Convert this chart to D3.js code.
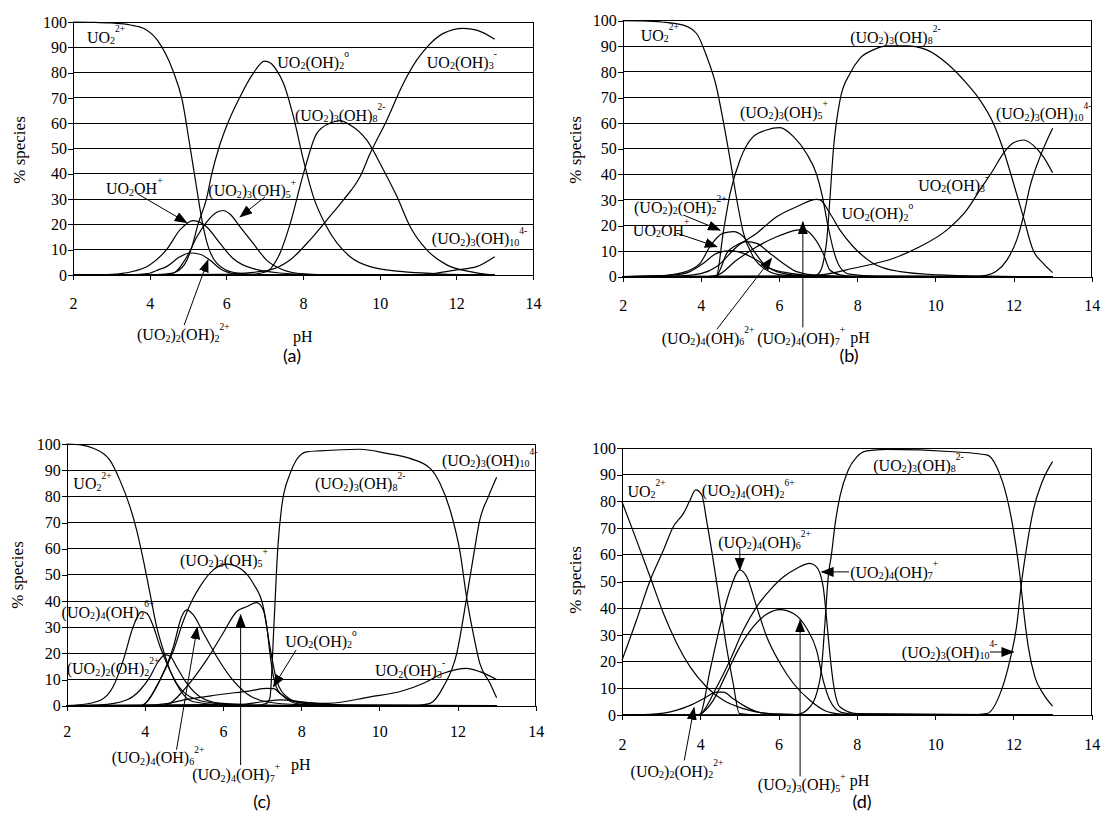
<!DOCTYPE html>
<html>
<head>
<meta charset="utf-8">
<script src="https://cdn.jsdelivr.net/npm/d3@7"></script>
<style>
  html, body { margin: 0; padding: 0; background: #fff; }
  svg { display: block; }
</style>
</head>
<body>
<svg id="chart" width="1101" height="814"></svg>
<script>
// ---- axis ticks ----
const pHTicks = [2, 4, 6, 8, 10, 12, 14];
const pctTicks = [0, 10, 20, 30, 40, 50, 60, 70, 80, 90, 100];

// ---- species distribution, [pH, % species] ----
// panel (a)
const a_UO2      = [[2,100],[2.5,99.9],[3,99.6],[3.5,98.8],[3.85,97.4],[4.2,92.8],[4.6,81],[4.85,69],[5.05,51],[5.23,34],[5.36,22],[5.5,12.5],[5.75,4.7],[6.2,1],[7,0.1],[13,0]];
const a_UO2OH    = [[2,0],[2.5,0.1],[3,0.3],[3.5,1.2],[4,4],[4.44,10],[4.79,17.8],[5.14,21.5],[5.49,19],[5.83,12.6],[6.17,6.6],[6.7,2.5],[7.66,0.5],[9,0],[13,0]];
const a_UO22OH2  = [[2,0],[3.5,0.1],[4,0.7],[4.18,1.8],[4.44,3.3],[4.79,7.2],[5.05,8.7],[5.31,8.2],[5.57,5.9],[5.83,2.6],[6.2,0.6],[7,0],[13,0]];
const a_UO23OH5  = [[2,0],[4.3,0.1],[4.6,0.6],[4.97,7.2],[5.23,15],[5.49,21],[5.75,24.8],[5.92,25.5],[6.1,24],[6.36,19],[6.7,12.5],[7.05,5.9],[7.49,2],[8,0.5],[9,0],[13,0]];
const a_UO2OH2   = [[2,0],[4.2,0.2],[4.6,0.8],[4.9,4],[5.1,11],[5.26,20],[5.48,30],[5.62,40],[5.8,50],[6,58.6],[6.36,70.5],[6.7,79.7],[7,84.5],[7.15,83.8],[7.31,81],[7.49,75.8],[7.75,62.6],[8.01,45.5],[8.27,31],[8.62,19],[9.23,7.2],[9.75,3.3],[10.6,1.3],[11.5,0.5],[13,0]];
const a_UO23OH8  = [[2,0],[6.5,0.1],[7.05,1.3],[7.31,5.9],[7.4,8.6],[7.66,20],[8.01,40],[8.36,56],[8.7,60],[8.97,61],[9.23,59.3],[9.66,53.4],[10.1,41.5],[10.45,31],[10.8,19],[11.23,9.9],[11.75,4],[12.36,1.3],[12.8,0.3],[13,0.2]];
const a_UO2OH3   = [[2,0],[6,0.3],[6.5,0.8],[7.14,2],[7.66,5.9],[8.18,13.8],[8.62,21.7],[9.05,29.6],[9.49,38.9],[9.75,48],[10.18,61],[10.62,75.8],[10.97,85],[11.23,90],[11.66,95.5],[12.18,97.5],[12.53,96.8],[13,93.2]];
const a_UO23OH10 = [[2,0],[11,0.2],[11.5,0.8],[12,2],[12.53,3.3],[13,7.2]];

// panel (b)
const b_UO2      = [[2,100],[2.5,99.9],[3,99.5],[3.55,98.3],[3.89,95],[4.15,86],[4.4,74],[4.57,61],[4.75,45.6],[4.92,30],[5.09,17],[5.34,7.8],[5.68,2.6],[6.1,0.6],[7,0.1],[13,0]];
const b_UO2OH    = [[2,0],[3,0.4],[3.5,1],[3.72,2],[4.06,5.2],[4.4,9.1],[4.75,10.2],[5.09,9.1],[5.43,6.5],[5.77,3.3],[6.3,1.3],[7,0.3],[8,0],[13,0]];
const b_UO22OH2  = [[2,0],[3,0.4],[3.5,1.5],[3.72,2.6],[3.98,5.2],[4.23,11.7],[4.57,17],[4.83,17.6],[5.09,15.6],[5.34,10.4],[5.6,5.2],[5.94,2],[6.5,0.5],[7.5,0],[13,0]];
const b_UO24OH6  = [[2,0],[4.2,0],[4.4,0.3],[4.5,3],[4.66,9.1],[4.92,12.4],[5.17,13.7],[5.43,13],[5.77,9.1],[6.11,5.2],[6.45,2],[7,0.5],[8,0],[13,0]];
const b_UO23OH5  = [[2,0],[4.2,0],[4.4,0.5],[4.57,17],[4.75,32.6],[5,45.6],[5.34,54.7],[5.68,57.3],[6.02,58.2],[6.37,54.7],[6.7,48.2],[6.96,40],[7.1,32],[7.25,20],[7.4,10],[7.55,4],[7.8,1],[8.5,0.2],[13,0]];
const b_UO24OH7  = [[2,0],[4.2,0],[4.4,0.4],[4.92,6.5],[5.43,11.7],[5.94,15.6],[6.45,18.2],[6.62,18.5],[6.88,15.6],[7.13,9.1],[7.3,2.6],[7.56,0.7],[8,0.1],[13,0]];
const b_UO2OH2   = [[2,0],[3.5,0.3],[4,1.2],[4.4,3.9],[4.92,11.7],[5.43,17],[5.94,23.4],[6.45,27.3],[6.96,30.2],[7.05,30],[7.3,24.8],[7.56,18.2],[7.9,11.7],[8.41,5.2],[9.1,2],[10.1,0.7],[11,0.2],[13,0]];
const b_UO23OH8  = [[2,0],[6.9,0.3],[7.05,2],[7.15,7],[7.22,14],[7.3,30],[7.39,49.5],[7.56,69],[7.82,79.5],[8.07,85.3],[8.41,88.6],[8.76,90.2],[9.27,90.2],[9.78,88.6],[10.29,83.4],[10.8,75.5],[11.14,69],[11.48,60],[11.74,49.5],[12,36.5],[12.25,23.4],[12.5,10.4],[12.76,5.2],[13,1.6]];
const b_UO2OH3   = [[2,0],[6,0.1],[7.05,0.7],[7.9,3.3],[8.93,7.2],[9.6,11.7],[10.29,18.2],[10.8,26],[11.14,33.9],[11.48,41.7],[11.74,48.2],[12,52.3],[12.25,53.4],[12.5,51.4],[12.76,46.9],[13,40.6]];
const b_UO23OH10 = [[2,0],[11,0.1],[11.3,0.5],[11.55,2],[11.83,6.5],[12.08,14.3],[12.25,23.4],[12.42,35.2],[12.68,46.9],[13,58]];

// panel (c)
const c_UO2      = [[2,100],[2.4,99.6],[2.68,98.4],[3.1,93.9],[3.36,86.2],[3.62,76],[3.79,67.1],[3.96,55.7],[4.13,43],[4.3,30.2],[4.47,21.3],[4.64,13.6],[4.9,6],[5.24,1.5],[6,0.3],[7,0],[13,0]];
const c_UO24OH2  = [[2,0],[2.3,0.3],[2.85,2],[3.19,7.3],[3.45,17.5],[3.7,30.2],[3.92,36],[4.05,35.3],[4.22,30.2],[4.39,22.5],[4.56,16.2],[4.81,8.6],[5.16,3.4],[5.75,1],[7,0],[13,0]];
const c_UO22OH2  = [[2,0],[2.85,0.3],[3.53,2.2],[3.88,6],[4.13,11],[4.34,16.8],[4.52,19.4],[4.64,19],[4.81,14.9],[5.07,8.6],[5.41,3.4],[5.9,1],[7,0.2],[8,0],[13,0]];
const c_UO24OH6  = [[2,0],[3.9,0],[3.96,0.3],[4.39,9.8],[4.73,22.5],[4.94,34],[5.07,36.6],[5.24,34.7],[5.5,27.7],[5.84,18.7],[6.18,11.1],[6.6,4.7],[7.1,1.5],[8,0.3],[9,0],[13,0]];
const c_UO23OH5  = [[2,0],[3.9,0],[3.96,0.3],[4.39,10],[4.73,21],[5,33],[5.2,40],[5.41,45.5],[5.75,51.9],[6.09,54.1],[6.43,52.5],[6.77,46.8],[7.03,37.8],[7.2,22.5],[7.37,9.8],[7.63,3.4],[8,1],[9,0.2],[13,0]];
const c_UO24OH7  = [[2,0],[4.4,0],[4.56,0.3],[5.07,7.3],[5.58,17.5],[6,27.7],[6.35,36],[6.6,37.8],[6.86,39.4],[7.03,36.6],[7.12,30.2],[7.2,20],[7.29,11.1],[7.46,4.7],[8,0.5],[9,0],[13,0]];
const c_UO2OH2   = [[2,0],[4,0.1],[4.56,0.8],[5,2.2],[5.84,4.1],[6.69,5.7],[7.12,6.6],[7.3,6.5],[7.46,4.7],[7.71,2.2],[8.4,0.8],[9,0.3],[10,0.1],[13,0]];
const c_UO23OH8  = [[2,0],[6.8,0],[7.1,0.8],[7.2,3],[7.3,30],[7.4,60],[7.5,76],[7.71,88.5],[7.88,94],[8.14,97],[8.48,97.4],[9.5,98],[10.19,96.4],[10.78,94.5],[11.3,90.7],[11.55,85],[11.81,74.8],[12.07,58.2],[12.23,41.6],[12.4,27.7],[12.57,16.2],[12.83,8.6],[13,3]];
const c_UO2OH3   = [[2,0],[6.5,0.5],[7,1.5],[7.5,2.2],[8,1.4],[8.7,0.9],[9.76,3.4],[10.6,5.7],[11.13,8.6],[11.64,12.4],[12.23,14.3],[12.57,13],[13,10]];
const c_UO23OH10 = [[2,0],[11,0.2],[11.3,0.9],[11.64,7.3],[11.98,20],[12.23,41],[12.4,56.5],[12.57,71],[12.79,79.9],[13,87.3]];

// panel (d)
const d_UO2      = [[2,79.9],[2.37,65.5],[2.72,51.7],[3.06,38],[3.4,26.8],[3.74,18],[4.16,10.5],[4.59,5.5],[5.1,2.4],[5.7,0.6],[6.5,0.1],[7,0],[13,0]];
const d_UO24OH2  = [[2,20.5],[2.37,35.5],[2.72,50.5],[3.06,61.8],[3.31,70.5],[3.57,75.5],[3.74,80.5],[3.88,84.3],[4.04,82.4],[4.16,73],[4.33,58],[4.5,41.8],[4.67,25.5],[4.84,11.8],[5,0.5],[5.5,0],[13,0]];
const d_UO22OH2  = [[2,0],[2.7,0.2],[3.4,1.8],[3.74,3.6],[4.08,6.1],[4.42,8.6],[4.59,8.6],[4.84,6.1],[5.1,3.6],[5.5,1],[6,0.3],[7,0],[13,0]];
const d_UO24OH6  = [[2,0],[3.95,0],[4,0.3],[4.25,16.8],[4.5,33],[4.76,46.8],[5.01,54.3],[5.19,51.7],[5.44,40.5],[5.7,29.2],[6.04,19.3],[6.38,11.8],[6.8,5.5],[7.2,1.5],[7.6,0.3],[8,0],[13,0]];
const d_UO23OH5  = [[2,0],[3.95,0],[4,0.3],[4.33,5.5],[4.67,15.5],[5.01,25.5],[5.35,33],[5.7,37.8],[6.04,39.5],[6.38,38],[6.72,32.4],[6.97,24.3],[7.14,13],[7.31,5.5],[7.6,1],[8,0.2],[13,0]];
const d_UO24OH7  = [[2,0],[3.95,0],[4,0.3],[4.42,10.5],[4.76,20.5],[5.1,31.8],[5.44,40.5],[5.78,46.8],[6.12,51.7],[6.46,54.9],[6.8,56.8],[6.97,55.5],[7.14,48],[7.23,35.5],[7.31,23],[7.4,11.8],[7.57,3],[8,0.5],[13,0]];
const d_UO23OH8  = [[2,0],[6.3,0],[6.46,0.1],[6.8,3],[6.97,8],[7.1,18],[7.19,35.5],[7.27,52],[7.35,60],[7.44,71],[7.57,82],[7.78,91.8],[8,96.7],[8.25,98.9],[8.76,99.5],[10.46,98.6],[11.32,97.4],[11.57,93],[11.83,81.7],[12,69.3],[12.17,51.7],[12.25,40.5],[12.38,25.5],[12.55,14.2],[12.76,8],[13,3.3]];
const d_UO23OH10 = [[2,0],[11,0.1],[11.32,0.5],[11.66,8],[11.91,20.5],[12.08,33],[12.21,49.9],[12.34,63],[12.51,76.8],[12.72,86.8],[13,94.9]];

// ---- species names (_ subscript, ^ superscript) ----
const SP = {
  UO2:      "UO_2^{2+}",
  UO2OH:    "UO_2OH^+",
  UO22OH2:  "(UO_2)_2(OH)_2^{2+}",
  UO23OH5:  "(UO_2)_3(OH)_5^+",
  UO2OH2:   "UO_2(OH)_2^o",
  UO23OH8:  "(UO_2)_3(OH)_8^{2-}",
  UO2OH3:   "UO_2(OH)_3^-",
  UO23OH10: "(UO_2)_3(OH)_{10}^{4-}",
  UO24OH6:  "(UO_2)_4(OH)_6^{2+}",
  UO24OH7:  "(UO_2)_4(OH)_7^+",
  UO24OH2:  "(UO_2)_4(OH)_2^{6+}"
};

// ---- panel layout and annotations (label anchors in pH / % units) ----
const panels = [
  { caption: "(a)", left: 73, right: 533, bottom: 275, top: 22, tickPad: 17.6,
    yTitle: [19, 150], cap: [292, 355],
    series: [a_UO2, a_UO2OH, a_UO22OH2, a_UO23OH5, a_UO2OH2, a_UO23OH8, a_UO2OH3, a_UO23OH10],
    labels: [[SP.UO2, 2.365, 91.8], [SP.UO2OH, 2.86, 32.0], [SP.UO23OH5, 5.53, 31.2],
             [SP.UO2OH2, 7.33, 81.9], [SP.UO23OH8, 7.79, 60.9], [SP.UO2OH3, 11.23, 81.9],
             [SP.UO23OH10, 11.36, 12.1], [SP.UO22OH2, 3.67, -25.7], ["pH", 7.74, -26.3]],
    arrows: [[[3.66, 32.3], [4.97, 20.7]], [[7.01, 30.9], [6.36, 23.0]], [[4.90, -19.8], [5.52, 5.9]]] },
  { caption: "(b)", left: 622.7, right: 1091.7, bottom: 276.7, top: 20.7, tickPad: 17.5,
    yTitle: [575, 150], cap: [849, 355],
    series: [b_UO2, b_UO2OH, b_UO22OH2, b_UO24OH6, b_UO23OH5, b_UO24OH7, b_UO2OH2, b_UO23OH8, b_UO2OH3, b_UO23OH10],
    labels: [[SP.UO2, 2.46, 92.1], [SP.UO23OH5, 5.0, 62.1], [SP.UO22OH2, 2.29, 25.0],
             [SP.UO2OH, 2.26, 15.9], [SP.UO24OH6, 3.0, -26.2], [SP.UO24OH7, 5.44, -26.2],
             ["pH", 7.82, -26.0], [SP.UO23OH8, 7.82, 91.4], [SP.UO23OH10, 11.55, 61.5],
             [SP.UO2OH3, 9.56, 33.5], [SP.UO2OH2, 7.6, 22.4]],
    arrows: [[[3.55, 24.1], [4.49, 18.2]], [[3.38, 17.0], [4.41, 11.7]],
             [[4.41, -20.5], [5.81, 7.2]], [[6.61, -19.8], [6.61, 21.4]]] },
  { caption: "(c)", left: 66.7, right: 535.7, bottom: 705.7, top: 444, tickPad: 14.5,
    yTitle: [17, 575], cap: [262, 801],
    series: [c_UO2, c_UO24OH2, c_UO22OH2, c_UO24OH6, c_UO23OH5, c_UO24OH7, c_UO2OH2, c_UO23OH8, c_UO2OH3, c_UO23OH10],
    labels: [[SP.UO2, 2.17, 82.7], [SP.UO23OH5, 4.90, 53.4], [SP.UO24OH2, 1.87, 33.6],
             [SP.UO22OH2, 2.0, 12.0], [SP.UO2OH2, 7.59, 22.5], [SP.UO23OH8, 8.35, 82.7],
             [SP.UO23OH10, 11.6, 91.6], [SP.UO2OH3, 9.89, 11.3], [SP.UO24OH6, 3.15, -21.9],
             [SP.UO24OH7, 5.21, -28.4], ["pH", 7.74, -24.5]],
    arrows: [[[7.87, 21.3], [7.29, 7.3]], [[4.81, -16.8], [5.34, 30.0]], [[6.45, -22.7], [6.45, 34.7]]] },
  { caption: "(d)", left: 622, right: 1091.7, bottom: 715, top: 448, tickPad: 19,
    yTitle: [575, 580], cap: [862, 801],
    series: [d_UO2, d_UO24OH2, d_UO22OH2, d_UO24OH6, d_UO23OH5, d_UO24OH7, d_UO23OH8, d_UO23OH10],
    labels: [[SP.UO2, 2.14, 81.7], [SP.UO24OH2, 4.04, 82.0], [SP.UO24OH6, 4.46, 62.6],
             [SP.UO24OH7, 7.83, 51.4], [SP.UO23OH8, 8.42, 91.4], [SP.UO23OH10, 9.15, 21.4],
             [SP.UO22OH2, 2.22, -23.2], [SP.UO23OH5, 5.47, -28.2], ["pH", 7.82, -26.5]],
    arrows: [[[5.01, 63], [5.01, 54.3]], [[7.80, 53.6], [7.10, 53.6]], [[11.40, 23.6], [12.0, 23.6]],
             [[3.59, -17.0], [3.84, 2.7]], [[6.55, -23], [6.55, 35.5]]] }
];

const SERIF = "'Liberation Serif', 'Times New Roman', serif";
const FONT = 16, SUB_SIZE = 10, SUB_DY = 1.5, SUP_SIZE = 9.5, SUP_DY = -10.5;

const svg = d3.select("#chart");
svg.append("rect").attr("width", 1101).attr("height", 814).attr("fill", "#fff");

svg.append("defs").append("marker")
  .attr("id", "head").attr("viewBox", "0 0 13 10")
  .attr("markerWidth", 13).attr("markerHeight", 10)
  .attr("refX", 12).attr("refY", 5).attr("orient", "auto")
  .attr("markerUnits", "userSpaceOnUse")
  .append("path").attr("d", "M0,0L13,5L0,10Z").attr("fill", "#000");

// chemical formula with sub/superscripts as tspans
function formula(g, str, x, y) {
  const t = g.append("text").attr("x", x).attr("y", y)
    .style("font-family", SERIF).style("font-size", FONT + "px").attr("fill", "#000");
  const re = /_\{([^}]*)\}|_(.)|\^\{([^}]*)\}|\^(.)|([^_^]+)/g;
  let m, off = 0;
  while ((m = re.exec(str))) {
    let txt, target, fs;
    if (m[1] !== undefined || m[2] !== undefined) { txt = m[1] ?? m[2]; target = SUB_DY; fs = SUB_SIZE; }
    else if (m[3] !== undefined || m[4] !== undefined) { txt = m[3] ?? m[4]; target = SUP_DY; fs = SUP_SIZE; }
    else { txt = m[5]; target = 0; fs = FONT; }
    t.append("tspan").attr("dy", target - off).style("font-size", fs + "px").text(txt);
    off = target;
  }
  return t;
}

panels.forEach(p => {
  const x = d3.scaleLinear().domain([2, 14]).range([p.left, p.right]);
  const y = d3.scaleLinear().domain([0, 100]).range([p.bottom, p.top]);
  const g = svg.append("g");

  // horizontal gridlines
  g.append("g").selectAll("line").data(pctTicks.filter(v => v > 0)).join("line")
    .attr("x1", p.left).attr("x2", p.right)
    .attr("y1", d => y(d)).attr("y2", d => y(d))
    .attr("stroke", "#000").attr("stroke-width", 1).attr("shape-rendering", "crispEdges");
  // right frame edge
  g.append("line").attr("x1", p.right).attr("x2", p.right).attr("y1", p.top).attr("y2", p.bottom)
    .attr("stroke", "#000").attr("shape-rendering", "crispEdges");

  // axes
  const xAxis = d3.axisBottom(x).tickValues(pHTicks).tickSize(5).tickSizeOuter(0).tickPadding(p.tickPad);
  const yAxis = d3.axisLeft(y).tickValues(pctTicks).tickSize(5).tickSizeOuter(0).tickPadding(1);
  const gx = g.append("g").attr("transform", `translate(0,${p.bottom})`).call(xAxis);
  const gy = g.append("g").attr("transform", `translate(${p.left},0)`).call(yAxis);
  [gx, gy].forEach(a => {
    a.attr("font-family", null).attr("font-size", null);
    a.selectAll("text").style("font-family", SERIF).style("font-size", FONT + "px").attr("fill", "#000");
    a.selectAll("line, path").attr("stroke", "#000").attr("shape-rendering", "crispEdges");
  });

  // y title
  g.append("text").attr("transform", `translate(${p.yTitle[0]},${p.yTitle[1]}) rotate(-90)`)
    .attr("text-anchor", "middle").attr("dominant-baseline", "central")
    .style("font-family", SERIF).style("font-size", "17px").text("% species");

  // species curves
  const line = d3.line().x(d => x(d[0])).y(d => y(d[1])).curve(d3.curveMonotoneX);
  g.append("g").selectAll("path").data(p.series).join("path")
    .attr("d", line).attr("fill", "none").attr("stroke", "#000").attr("stroke-width", 1.2);

  // labels
  p.labels.forEach(([s, px, pv]) => formula(g, s, x(px), y(pv)));

  // pointer arrows
  g.append("g").selectAll("line").data(p.arrows).join("line")
    .attr("x1", d => x(d[0][0])).attr("y1", d => y(d[0][1]))
    .attr("x2", d => x(d[1][0])).attr("y2", d => y(d[1][1]))
    .attr("stroke", "#000").attr("stroke-width", 1).attr("marker-end", "url(#head)");

  // panel caption
  svg.append("text").attr("x", p.cap[0]).attr("y", p.cap[1])
    .attr("text-anchor", "middle").attr("dominant-baseline", "central")
    .style("font-family", "Lato, 'Open Sans', sans-serif").style("font-size", "18px")
    .text(p.caption);
});
</script>
</body>
</html>
